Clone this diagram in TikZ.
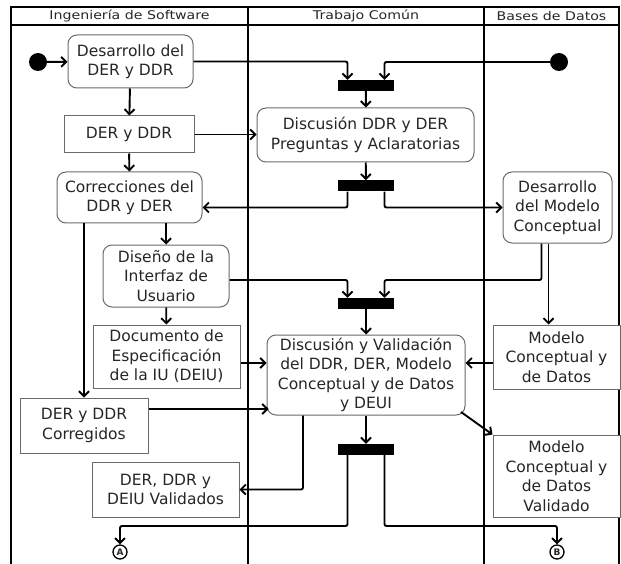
\documentclass[tikz,border=0pt]{standalone}
\usepackage{fontspec}
\setmainfont{DejaVu Sans}
\usetikzlibrary{arrows.meta}
\definecolor{txt}{HTML}{262626}
\definecolor{edge}{HTML}{6a6a6a}
\begin{document}
\begin{tikzpicture}[x=1pt,y=-1pt,
  lane/.style={line width=1.8pt, black},
  head/.style={font=\fontsize{12}{14}\selectfont, text=txt, inner sep=0pt},
  act/.style={draw=edge, line width=1pt, rounded corners=9pt, fill=white, align=center,
    font=\fontsize{15.5}{19.5}\selectfont, text=txt, inner sep=0pt},
  obj/.style={draw=edge, line width=1pt, fill=white, align=center,
    font=\fontsize{15.5}{19.5}\selectfont, text=txt, inner sep=0pt},
  bar/.style={fill=black, minimum width=56pt, minimum height=11pt, inner sep=0pt},
  startdot/.style={circle, fill=black, minimum size=18pt, inner sep=0pt},
  conn/.style={circle, draw=black, line width=1.3pt, fill=white, minimum size=14pt, inner sep=0pt,
    font=\fontsize{9}{9}\selectfont\bfseries, text=txt},
  flow/.style={line width=1.9pt, rounded corners=2pt, -{Straight Barb[length=5pt,width=10pt]}}
]
\useasboundingbox (0,0) rectangle (621,564);
% swimlane frame
\draw[lane] (11,564) -- (11,7) -- (619,7) -- (619,564);
\draw[lane] (11,25) -- (619,25);
\draw[lane] (248,7) -- (248,564);
\draw[lane] (484,7) -- (484,564);
\node[head] (h1) at (129.5,16) {\scalebox{1.18}[1]{Ingeniería de Software}};
\node[head] (h2) at (366,16) {\scalebox{1.18}[1]{Trabajo Común}};
\node[head] (h3) at (551.5,16) {\scalebox{1.18}[1]{Bases de Datos}};

% helper levels
\coordinate (y280) at (0,280);
\coordinate (y363) at (0,363);
\coordinate (y409) at (0,409);
\coordinate (y526) at (0,526);
\coordinate (dg) at (461,412);

% nodes
\node[startdot] (s1) at (38,62) {};
\node[startdot] (s2) at (559,62) {};
\node[act, minimum width=125pt, minimum height=53pt] (d1) at (130.5,61.5) {Desarrollo del\\DER y DDR};
\node[obj, minimum width=130pt, minimum height=37pt] (o1) at (129,134.5) {DER y DDR};
\node[act, minimum width=145pt, minimum height=51pt] (c1) at (129.5,197.5) {Correcciones del\\DDR y DER};
\node[act, minimum width=126pt, minimum height=62pt] (di) at (166,276) {Diseño de la\\Interfaz de\\Usuario};
\node[obj, minimum width=147pt, minimum height=63pt] (doc) at (166.5,356.5) {Documento de\\Especificación\\de la IU (DEIU)};
\node[obj, minimum width=128pt, minimum height=55pt] (cor) at (84,425.5) {DER y DDR\\Corregidos};
\node[obj, minimum width=147pt, minimum height=55pt] (val) at (165.5,489.5) {DER, DDR y\\DEIU Validados};
\node[bar] (b1) at (366,85.5) {};
\node[act, minimum width=217pt, minimum height=54pt] (disc1) at (365.5,135) {Discusión DDR y DER\\Preguntas y Aclaratorias};
\node[bar] (b2) at (366,186) {};
\node[act, minimum width=109pt, minimum height=71pt] (dm) at (557.5,207.5) {Desarrollo\\del Modelo\\Conceptual};
\node[bar] (b3) at (366,303.5) {};
\node[act, minimum width=198pt, minimum height=80pt] (disc2) at (366,375) {Discusión y Validación\\del DDR, DER, Modelo\\Conceptual y de Datos\\y DEUI};
\node[obj, minimum width=127pt, minimum height=64pt] (mcd) at (556.5,357) {Modelo\\Conceptual y\\de Datos};
\node[obj, minimum width=127pt, minimum height=82pt] (mcdv) at (556.5,476) {Modelo\\Conceptual y\\de Datos\\Validado};
\node[bar] (b4) at (366,449.5) {};
\node[conn] (A) at (120,552) {A};
\node[conn] (B) at (557,552) {B};

% connectors
\draw[flow] (s1) -- (d1);
\draw[flow] (d1) -- (o1);
\draw[flow] (d1.east) -| ([xshift=-18.5pt]b1.north);
\draw[flow] (s2) -| ([xshift=18.5pt]b1.north);
\draw[flow] (b1) -- (disc1);
\draw[flow] (o1.east) -- (o1.east -| disc1.west);
\draw[flow] (disc1) -- (b2);
\draw[flow] ([xshift=-18.5pt]b2.south) |- (c1.east |- dm.west);
\draw[flow] ([xshift=18.5pt]b2.south) |- (dm.west);
\draw[flow] (o1) -- (c1);
\draw[flow] (di.north |- c1.south) -- (di.north);
\draw[flow] (cor.north |- c1.south) -- (cor.north);
\draw[flow] (di) -- (doc);
\draw[flow] (di.east |- y280) -| ([xshift=-18.5pt]b3.north);
\draw[flow] ([xshift=-16pt]dm.south) |- ([xshift=18.5pt]b3.north |- y280) -- ([xshift=18.5pt]b3.north);
\draw[flow] ([xshift=-9pt]dm.south) -- ([xshift=-9pt]dm.south |- mcd.north);
\draw[flow] (b3) -- (disc2);
\draw[flow] (doc.east |- y363) -- (disc2.west |- y363);
\draw[flow] (mcd.west |- y363) -- (disc2.east |- y363);
\draw[flow] (cor.east |- y409) -- ([xshift=2pt]disc2.west |- y409);
\draw[flow] (disc2) -- (b4);
\draw[flow] ([xshift=-63pt]disc2.south) |- (val.east);
\draw[flow] (dg) -- (mcdv.north west);
\draw[flow] ([xshift=-18.5pt]b4.south) |- (A.north |- y526) -- (A.north);
\draw[flow] ([xshift=18.5pt]b4.south) |- (B.north |- y526) -- (B.north);
\end{tikzpicture}
\end{document}
